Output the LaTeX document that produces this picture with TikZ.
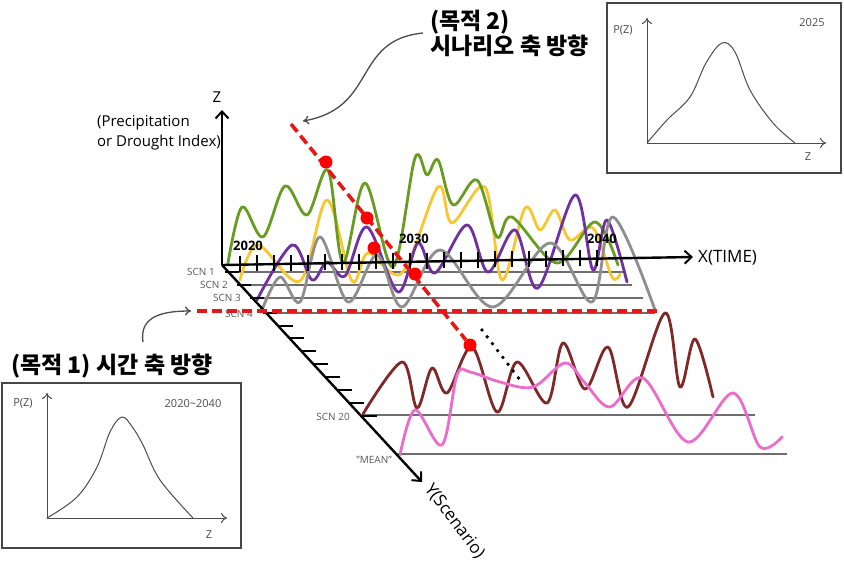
\documentclass[tikz,border=0pt]{standalone}
\usepackage{fontspec}
\setmainfont{Open Sans}
\newfontfamily\kr{Noto Sans CJK KR}
\usetikzlibrary{arrows.meta}
\definecolor{cgreen}{RGB}{104,156,32}
\definecolor{cyellow}{RGB}{247,198,48}
\definecolor{cpurple}{RGB}{112,48,160}
\definecolor{cgray}{RGB}{142,142,142}
\definecolor{cbrown}{RGB}{128,40,40}
\definecolor{cpink}{RGB}{236,108,204}
\definecolor{cred}{RGB}{232,22,22}
\definecolor{cline}{RGB}{110,110,110}
\tikzset{
  mainaxis/.style={line width=2.4pt, draw=black, -{Straight Barb[length=7pt,width=13pt,line width=2pt]}},
  tickline/.style={line width=1.6pt, draw=black},
  scnline/.style={line width=1.2pt, draw=cline},
  wave/.style={line width=2.8pt, line cap=round, line join=round},
  scnlabel/.style={font=\fontsize{10}{10}\selectfont, text=gray!70!black, inner sep=0pt},
  yearlabel/.style={font=\fontsize{13}{13}\selectfont\bfseries, inner sep=0pt},
  axlabel/.style={font=\fontsize{15}{15}\selectfont, inner sep=0pt},
  biglabel/.style={font=\fontsize{17}{17}\selectfont, inner sep=0pt},
  krtext/.style={font=\kr\bfseries\fontsize{23}{23}\selectfont, inner sep=0pt},
  reddash/.style={line width=3.6pt, draw=cred, dash pattern=on 10pt off 5pt},
  reddot/.style={circle, fill=red, inner sep=0pt, minimum size=13pt},
  callout/.style={line width=1.3pt, draw=gray!60!black, -{To[length=6pt,width=9pt]}},
  pbox/.style={line width=1.6pt, draw=gray!55!black},
  paxis/.style={line width=1pt, draw=gray!60!black, -{To[length=6pt,width=10pt]}},
  pcurve/.style={line width=1pt, draw=gray!60!black},
  boxtext/.style={font=\fontsize{11}{11}\selectfont, text=gray!60!black, inner sep=0pt}
}
\begin{document}
\begin{tikzpicture}[x=1pt,y=-1pt]
\useasboundingbox (0,0) rectangle (844,565);
\fill[white] (0,0) rectangle (844,565);

% coordinates of axes
\coordinate (O) at (222,265);
\coordinate (Zend) at (222,110);
\coordinate (Xend) at (693,257);
\coordinate (Yend) at (422,482);

% scenario base lines
\coordinate (s1a) at (228.4,272); \coordinate (s1b) at (625,272);
\coordinate (s2a) at (240.4,285); \coordinate (s2b) at (632,285);
\coordinate (s3a) at (253.3,298); \coordinate (s3b) at (643,298);
\coordinate (s4a) at (266.2,313); \coordinate (s4b) at (655,313);
\coordinate (s20a) at (362,415); \coordinate (s20b) at (755,415);
\coordinate (sma) at (396,454); \coordinate (smb) at (787,454);
\draw[scnline] (s1a) -- (s1b);
\draw[scnline] (s2a) -- (s2b);
\draw[scnline] (s3a) -- (s3b);
\draw[scnline] (s4a) -- (s4b);
\draw[scnline] (s20a) -- (s20b);
\draw[scnline] (sma) -- (smb);

% waves (upper)
\draw[wave, cyellow] plot[smooth, tension=0.55] coordinates {(240,280) (258,245) (300,281) (327,200) (352,281) (368,253) (402,273) (438,187) (452,223) (485,187) (502,280) (525,208) (540,230) (555,210) (570,240) (593,228) (612,277) (620,274)};
\draw[wave, cgreen] plot[smooth, tension=0.55] coordinates {(228,263) (242,207) (263,237) (285,186) (307,215) (328,170) (343,263) (365,183) (393,267) (415,158) (427,175) (438,160) (453,205) (477,180) (497,237) (512,217) (557,263) (595,222) (618,265)};
\draw[wave, cpurple] plot[smooth, tension=0.55] coordinates {(257,300) (292,245) (312,280) (327,262) (345,276) (367,227) (398,292) (418,243) (435,273) (467,225) (488,272) (515,230) (538,288) (575,195) (593,270) (607,220) (627,282)};
\draw[wave, cgray] plot[smooth, tension=0.55] coordinates {(262,310) (280,277) (300,302) (320,237) (348,302) (377,255) (402,307) (440,250) (493,307) (550,243) (592,302) (613,217) (655,310)};

% waves (lower)
\draw[wave, cbrown] plot[smooth, tension=0.55] coordinates {(363,414) (402,362) (417,408) (432,368) (447,393) (472,347) (497,412) (517,362) (547,403) (563,343) (585,389) (608,347) (628,407) (665,313) (680,387) (695,339) (713,397)};
\draw[wave, cpink] plot[smooth, tension=0.55] coordinates {(400,455) (415,410) (442,445) (457,375) (470,372) (500,382) (533,387) (565,363) (585,383) (610,407) (643,378) (688,442) (733,393) (760,447) (782,437)};

% axes
\draw[mainaxis] (O) -- (Zend);
\draw[mainaxis] (O) -- (Xend);
\draw[mainaxis] (O) -- (Yend);

% x ticks
\foreach \i in {0,...,21}{
  \pgfmathsetmacro\tx{240+17*\i}
  \pgfmathsetmacro\ty{265-(\tx-222)*8/471}
  \draw[tickline] (\tx,{\ty-9}) -- (\tx,{\ty+7});
}
% y ticks
\foreach \xx/\yy in {228.4/272,240.4/285,253.3/298,266.2/313}{
  \draw[tickline] ({\xx-3},\yy) -- ({\xx+11},\yy);
}
\foreach \xx/\yy in {278.2/326,289.3/338,301.2/351,313.2/364,325.2/377,337.2/390,349.1/403,362/416}{
  \draw[tickline] (\xx,\yy) -- ({\xx+15},\yy);
}

% labels
\node[yearlabel] (y2020) at (248,246) {2020};
\node[yearlabel] (y2030) at (414,239) {2030};
\node[yearlabel] (y2040) at (602,239) {2040};
\node[scnlabel, anchor=east] (l1) at (215,272) {SCN 1};
\node[scnlabel, anchor=east] (l2) at (228,285) {SCN 2};
\node[scnlabel, anchor=east] (l3) at (241,298) {SCN 3};
\node[scnlabel, anchor=east] (l4) at (253,314) {SCN 4};
\node[scnlabel, anchor=east] (l20) at (350,417) {SCN 20};
\node[scnlabel, anchor=east] (lm) at (392,460) {"MEAN"};

\node[axlabel] (zlab) at (217,97) {Z};
\node[axlabel, anchor=base east] (pl2) at (221,146) {or Drought Index)};
\node[axlabel, anchor=base west] (pl1) at ([yshift=20pt]pl2.base west) {(Precipitation};
\node[biglabel, anchor=west] (xlab) at (698,258) {X(TIME)};
\node[biglabel, anchor=west, rotate=-53] (ylab) at (428,486) {Y(Scenario)};

% red dashed lines and dots
\coordinate (rd1) at (291,124);
\coordinate (rhA) at (197,311);
\coordinate (rhB) at (658,311);
\draw[reddash] (rhA) -- (rhB);
\node[reddot] (d5) at (470,345) {};
\draw[reddash] (rd1) -- (d5);
\node[reddot] (d1) at (326,162) {};
\node[reddot] (d2) at (367,218) {};
\node[reddot] (d3) at (374,248) {};
\node[reddot] (d4) at (415,274) {};
\coordinate (bk1) at (482,330);
\coordinate (bk2) at (523,384);
\draw[line width=3.8pt, line cap=round, dash pattern=on 0pt off 8.6pt] (bk1) -- (bk2);

% Korean titles
\node[krtext, anchor=west] (t2a) at (430,22) {(목적 2)};
\node[krtext, anchor=west] (t2b) at (430,46) {시나리오 축 방향};
\node[krtext, anchor=west] (t1) at (11,366) {(목적 1) 시간 축 방향};

% callout arrows
\coordinate (c2s) at (423,33);
\coordinate (c2e) at (303,121);
\draw[callout] (c2s) .. controls (352,40) and (378,108) .. (c2e);
\coordinate (c1s) at (143,342);
\coordinate (c1e) at (191,311);
\draw[callout] (c1s) .. controls (139,316) and (163,311) .. (c1e);

% left box
\draw[pbox] (2,383) rectangle (241,548);
\coordinate (lo) at (47,518);
\draw[paxis] (lo) -- (47,393);
\draw[paxis] (lo) -- (227,518);
\draw[pcurve] plot[smooth, tension=0.6] coordinates {(47,518) (77,497) (97,467) (110,432) (122,417) (133,428) (143,445) (160,480) (193,518)};
\node[boxtext] (lp) at (23,403) {P(Z)};
\node[boxtext] (lyr) at (193,404) {2020\textasciitilde2040};
\node[boxtext] (lz) at (209,535) {Z};

% right box
\draw[pbox] (607,3) rectangle (841,173);
\coordinate (ro) at (647,143);
\draw[paxis] (ro) -- (647,18);
\draw[paxis] (ro) -- (826,143);
\draw[pcurve] plot[smooth, tension=0.6] coordinates {(647,143) (667,120) (690,97) (706,63) (722,43) (735,52) (750,90) (773,123) (795,143)};
\node[boxtext] (rp) at (623,30) {P(Z)};
\node[boxtext] (ryr) at (812,23) {2025};
\node[boxtext] (rz) at (808,157) {Z};
\end{tikzpicture}
\end{document}
